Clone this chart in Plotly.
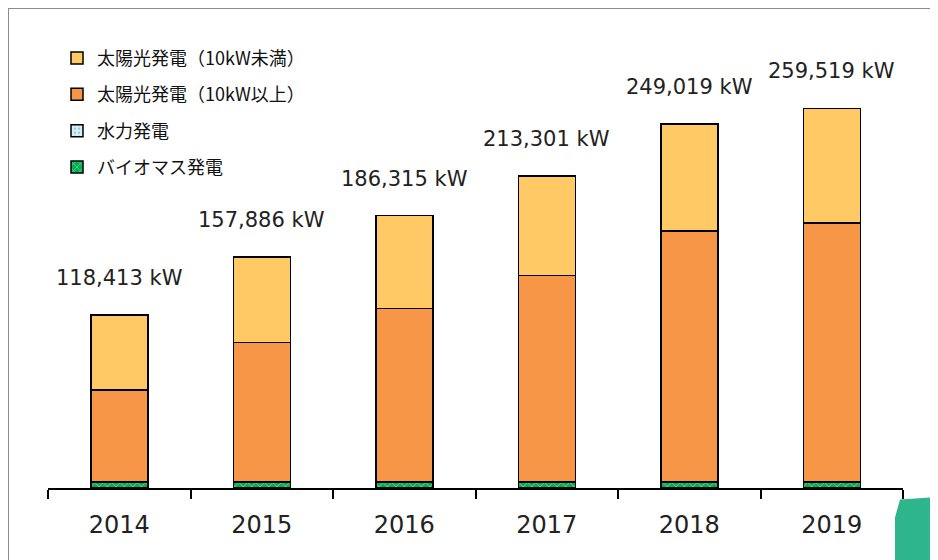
import plotly.graph_objects as go

years = ["2014", "2015", "2016", "2017", "2018", "2019"]
totals = [118413, 157886, 186315, 213301, 249019, 259519]
biomass = [4100, 4100, 4100, 4100, 4100, 4100]
hydro = [300, 300, 300, 300, 300, 300]
solar_large = [62500, 95100, 118500, 140800, 171300, 176800]
solar_small = [t - b - h - s for t, b, h, s in zip(totals, biomass, hydro, solar_large)]

names = ["バイオマス発電", "水力発電", "太陽光発電（10kW以上）", "太陽光発電（10kW未満）"]

fig = go.Figure()
line = dict(color="black", width=1.5)
fig.add_trace(go.Bar(x=years, y=biomass, name=names[0], legendgroup="a", legendrank=4,
                     marker=dict(color="#00B050", line=line,
                                 pattern=dict(shape="x", fgcolor="#E8F8EE", size=6, solidity=0.25))))
fig.add_trace(go.Bar(x=years, y=hydro, name=names[1], legendgroup="b", legendrank=3,
                     marker=dict(color="#DAEEF3", line=line,
                                 pattern=dict(shape=".", fgcolor="#4BACC6", size=5, solidity=0.3))))
fig.add_trace(go.Bar(x=years, y=solar_large, name=names[2], legendgroup="c", legendrank=2,
                     marker=dict(color="#F79646", line=line)))
fig.add_trace(go.Bar(x=years, y=solar_small, name=names[3], legendgroup="d", legendrank=1,
                     marker=dict(color="#FFC966", line=line)))

fig.update_traces(width=0.4)

for i, t in enumerate(totals):
    fig.add_annotation(x=i, y=t, text=f"{t:,} kW", showarrow=False, yshift=37,
                       font=dict(family="DejaVu Sans", size=21, color="#222222"))

# plot area in screen px: left 48, right 903, top 20, bottom 488.5 (page has 8px body margin)
W, H = 855.0, 468.5
def px(sx):
    return (sx - 48) / W
def py(sy):
    return (488.5 - sy) / H

fig.update_layout(
    barmode="stack",
    width=938, height=560,
    margin=dict(l=40, r=43, t=12, b=79.5),
    paper_bgcolor="white", plot_bgcolor="white",
    showlegend=True,
    legend=dict(x=px(57), y=py(39.7), xanchor="left", yanchor="top",
                traceorder="grouped", tracegroupgap=10,
                font=dict(family="Noto Sans CJK JP", size=18, color="#111111"),
                bgcolor="rgba(0,0,0,0)"),
    xaxis=dict(type="category", range=[-0.5, 5.5], showline=True, linecolor="black", linewidth=1.5,
               ticks="outside", tickson="boundaries", ticklen=9, tickcolor="black", tickwidth=1.5,
               tickfont=dict(family="DejaVu Sans", size=24, color="#222222"),
               showgrid=False, zeroline=False, ticklabelstandoff=14),
    yaxis=dict(visible=False, range=[0, 320000], showgrid=False, zeroline=False),
    shapes=[
        dict(type="rect", xref="paper", yref="paper",
             x0=px(8), x1=px(1000), y0=py(700), y1=py(8),
             line=dict(color="#8c8c8c", width=2), fillcolor="rgba(0,0,0,0)", layer="below"),
        dict(type="path", xref="paper", yref="paper",
             path="M {0},{1} L {0},{2} L {3},{4} L {5},{6} L {7},{8} L {7},{1} Z".format(
                 px(895), py(580), py(518), px(900), py(500), px(930), py(498), px(945), py(470)),
             fillcolor="#2EB58C", line=dict(width=0)),
    ],
)

fig.write_html("out.html")
